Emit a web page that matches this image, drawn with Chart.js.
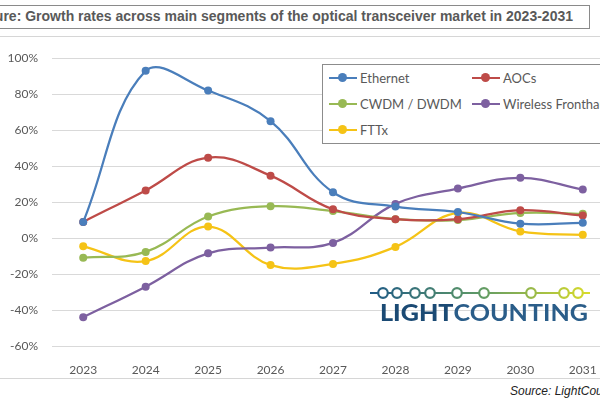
<!DOCTYPE html>
<html>
<head>
<meta charset="utf-8">
<script src="https://cdn.jsdelivr.net/npm/chart.js@4.4.0/dist/chart.umd.min.js"></script>
<style>
  html, body { margin:0; padding:0; width:600px; height:400px; overflow:hidden; background:#fff; }
  #titlebox { position:absolute; left:-10px; top:5px; width:598px; height:22px; border:1.5px solid #8a8a8a; }
  #title { position:absolute; right:27px; top:8px; white-space:nowrap; font:bold 14px "Liberation Sans", Arial, sans-serif; color:#595959; }
  #topline { position:absolute; left:0; top:36px; width:600px; border-top:1px solid #d6d6d6; }
  #bottomline { position:absolute; left:0; top:378px; width:600px; border-top:1px solid #d6d6d6; }
  #wrap { position:absolute; left:0; top:37px; width:620px; height:340px; }
  #legend { position:absolute; left:322px; top:64px; width:300px; height:78px; border:1px solid #8c8c8c; background:#fff; }
  .item { position:absolute; height:20px; font:13px Lato, sans-serif; color:#595959; line-height:20px; }
  .item .ln { position:absolute; left:0; top:9px; width:28px; height:2px; }
  .item .dot { position:absolute; left:9px; top:5px; width:9px; height:9px; border-radius:50%; }
  .item .tx { position:absolute; left:31px; top:0; white-space:nowrap; }
  #logo { position:absolute; left:360px; top:280px; }
  #source { position:absolute; left:510px; top:384px; white-space:nowrap; font:italic 12px "Liberation Sans", Arial, sans-serif; color:#222; }
</style>
</head>
<body>
<div id="titlebox"></div>
<div id="title">Figure: Growth rates across main segments of the optical transceiver market in 2023-2031</div>
<div id="topline"></div>
<div id="wrap"><canvas id="chart" width="620" height="340"></canvas></div>
<div id="bottomline"></div>
<div id="legend"></div>
<svg id="logo" width="240" height="50">
  <defs>
    <linearGradient id="lg" gradientUnits="userSpaceOnUse" x1="10" y1="0" x2="230" y2="0">
      <stop offset="0" stop-color="#1f5a86"/>
      <stop offset="0.5" stop-color="#5f9a66"/>
      <stop offset="1" stop-color="#d9dc2a"/>
    </linearGradient>
  </defs>
  <line x1="10" y1="13" x2="230" y2="13" stroke="url(#lg)" stroke-width="2"/>
  <g fill="#fff" stroke="url(#lg)" stroke-width="2.2" id="rings"></g>
  <text x="20" y="41" textLength="208" lengthAdjust="spacingAndGlyphs" font-family="Lato, sans-serif" font-size="22"><tspan font-weight="900" fill="#1b4a74">LIGHT</tspan><tspan font-weight="bold" fill="#2a5d89">COUNTING</tspan></text>
</svg>
<div id="source">Source: LightCounting</div>
<script>
const years = ['2023','2024','2025','2026','2027','2028','2029','2030','2031'];
const yTicks = [-60, -40, -20, 0, 20, 40, 60, 80, 100];

const ethernet  = [9, 93, 82, 65, 25.5, 17.5, 14.5, 8, 8.5];
const aocs      = [9, 26.5, 44.7, 34.7, 16, 10.5, 10.5, 15.5, 12.5];
const cwdm      = [-11, -7.7, 12, 17.7, 15, 10.5, 10, 14, 13.5];
const fronthaul = [-44, -27, -8.5, -5.3, -2.7, 19, 27.5, 33.5, 27];
const fttx      = [-4.6, -12.8, 6.4, -15, -14.4, -4.9, 14, 3.7, 1.8];

const names  = ['Ethernet', 'AOCs', 'CWDM / DWDM', 'Wireless Fronthaul', 'FTTx'];
const colors = ['#4a7ebb', '#be4b48', '#98b954', '#7d60a0', '#f5c316'];
const values = [ethernet, aocs, cwdm, fronthaul, fttx];

// logo rings
const ringX = [23, 37, 55, 70, 97, 124, 171, 204, 218];
const rings = document.getElementById('rings');
ringX.forEach(x => {
  const c = document.createElementNS('http://www.w3.org/2000/svg', 'circle');
  c.setAttribute('cx', x); c.setAttribute('cy', 13); c.setAttribute('r', 4.8);
  rings.appendChild(c);
});

// legend in a box, two columns
const legend = document.getElementById('legend');
const legPos = [[6,3],[149,3],[6,29],[149,29],[6,55]];
names.forEach((n, i) => {
  const d = document.createElement('div');
  d.className = 'item';
  d.style.left = legPos[i][0] + 'px';
  d.style.top = legPos[i][1] + 'px';
  d.innerHTML = `<div class="ln" style="background:${colors[i]}"></div><div class="dot" style="background:${colors[i]}"></div><div class="tx">${n}</div>`;
  legend.appendChild(d);
});

const ctx = document.getElementById('chart').getContext('2d');
new Chart(ctx, {
  type: 'line',
  data: {
    labels: years,
    datasets: values.map((v, i) => ({
      label: names[i],
      data: v,
      borderColor: colors[i],
      backgroundColor: colors[i],
      borderWidth: 2.25,
      pointRadius: 4,
      pointBorderWidth: 0,
      tension: 0.4
    }))
  },
  options: {
    responsive: false,
    animation: false,
    layout: { padding: { top: 17, right: 6, left: 0, bottom: 0 } },
    plugins: { legend: { display: false }, tooltip: { enabled: false } },
    scales: {
      x: {
        offset: true,
        grid: { display: false },
        border: { display: false },
        ticks: { color: '#595959', font: { family: 'Lato', size: 12 }, padding: 9, maxRotation: 0 },
        afterFit: s => { s.height = 31; }
      },
      y: {
        min: -60, max: 100,
        afterBuildTicks: s => { s.ticks = yTicks.map(v => ({ value: v })); },
        grid: { color: '#d9d9d9', lineWidth: 1, drawTicks: false },
        border: { display: false },
        ticks: { color: '#595959', font: { family: 'Lato', size: 12 }, padding: 14, callback: v => v + '%' },
        afterFit: s => { s.width = 52; }
      }
    }
  }
});
</script>
</body>
</html>
